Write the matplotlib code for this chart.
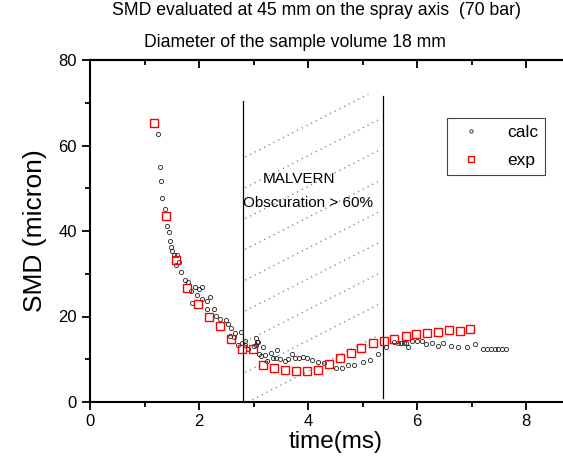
import matplotlib
matplotlib.use("Agg")
import matplotlib.pyplot as plt

plt.rcParams['font.family'] = ['Liberation Sans', 'DejaVu Sans']

# experimental SMD (red squares)
exp_t = [1.18, 1.39, 1.58, 1.78, 1.98, 2.18, 2.39, 2.59, 2.79, 2.99,
         3.18, 3.38, 3.58, 3.78, 3.98, 4.18, 4.39, 4.59, 4.78, 4.98,
         5.19, 5.39, 5.58, 5.79, 5.99, 6.18, 6.39, 6.59, 6.78, 6.98]
exp_smd = [65.2, 43.6, 33.1, 26.7, 23.0, 20.0, 17.8, 14.7, 12.4, 12.4,
           8.7, 8.0, 7.5, 7.2, 7.2, 7.6, 9.0, 10.4, 11.5, 12.6,
           13.8, 14.3, 14.7, 15.5, 15.9, 16.1, 16.4, 16.8, 16.6, 17.1]

# calculated SMD (small open circles)
calc_t = [1.24, 1.28, 1.30, 1.33, 1.38, 1.41, 1.45, 1.47, 1.48, 1.50,
          1.54, 1.57, 1.60, 1.63, 1.67, 1.74, 1.79, 1.85, 1.88, 1.93,
          1.96, 2.00, 2.06, 2.06, 2.14, 2.15, 2.21, 2.28, 2.31, 2.39,
          2.50, 2.54, 2.57, 2.59, 2.64, 2.66, 2.72, 2.77, 2.78, 2.84,
          2.85, 2.90, 3.00, 3.04, 3.04, 3.06, 3.09, 3.10, 3.13, 3.18,
          3.21, 3.25, 3.33, 3.35, 3.41, 3.44, 3.49, 3.58, 3.64, 3.70,
          3.76, 3.83, 3.91, 3.99, 4.08, 4.19, 4.29, 4.51, 4.62, 4.74,
          4.85, 5.00, 5.14, 5.28, 5.43, 5.58, 5.66, 5.71, 5.76, 5.80,
          5.84, 5.91, 6.00, 6.09, 6.17, 6.28, 6.38, 6.47, 6.62, 6.76,
          6.91, 7.06, 7.22, 7.29, 7.36, 7.43, 7.49, 7.56, 7.63]
calc_smd = [62.7, 55.0, 51.8, 47.8, 45.1, 41.2, 39.7, 37.7, 36.2, 35.3,
            34.4, 32.0, 34.4, 32.7, 30.5, 28.5, 28.0, 26.0, 23.2, 27.0,
            25.0, 26.4, 27.0, 24.1, 23.6, 21.8, 24.6, 21.7, 20.2, 19.3,
            19.2, 18.2, 15.4, 17.2, 15.1, 16.1, 13.3, 16.4, 13.7, 14.3,
            13.3, 12.4, 13.2, 14.9, 13.3, 14.1, 14.1, 11.2, 10.8, 12.8,
            11.0, 9.6, 11.4, 10.4, 10.2, 12.2, 10.0, 9.7, 10.1, 11.2,
            10.2, 10.2, 10.6, 10.4, 9.8, 9.4, 9.2, 8.0, 8.0, 8.6,
            8.7, 9.4, 9.8, 11.2, 12.8, 14.0, 13.7, 13.7, 13.7, 13.7,
            12.8, 14.3, 14.3, 14.3, 13.6, 13.7, 13.1, 13.8, 13.2, 12.8,
            12.9, 13.5, 12.4, 12.4, 12.4, 12.4, 12.4, 12.4, 12.4]

# MALVERN obscuration window
win_start, win_end = 2.8, 5.38
hatch_offsets = [57.0, 49.8, 42.6, 35.4, 28.2, 21.0, 13.8, 6.6, -0.6]
hatch_slope = 6.5

x_major = [0, 2, 4, 6, 8]
x_minor = [1, 3, 5, 7]

fig = plt.figure(figsize=(5.63, 4.58), dpi=100)
ax = fig.add_axes([90 / 563, 1 - 402 / 458, 9 * 54.5 / 563, 342 / 458])

# dotted hatch lines inside the window
for c in hatch_offsets:
    x_lo = max(2.85, win_start + (0 - c) / hatch_slope)
    x_hi = min(5.3, win_start + (72 - c) / hatch_slope)
    ax.plot([x_lo, x_hi],
            [c + hatch_slope * (x_lo - win_start), c + hatch_slope * (x_hi - win_start)],
            color='#777777', lw=1.0, ls=(0, (0.8, 3.0)), zorder=1)

ax.plot([win_start, win_start], [0, 70.5], color='black', lw=0.9, zorder=2)
ax.plot([win_end, win_end], [1, 71.6], color='black', lw=0.9, zorder=2)

ax.plot(calc_t, calc_smd, ls='none', marker='o', ms=3, mfc='none',
        mec='#222222', mew=0.6, label='calc', zorder=3)
ax.plot(exp_t, exp_smd, ls='none', marker='s', ms=6, mfc='none',
        mec='red', mew=1.0, label='exp', zorder=4)

ax.text(3.84, 51.2, 'MALVERN', fontsize=11, ha='center', va='baseline')
ax.text(4.0, 45.6, 'Obscuration > 60%', fontsize=11, ha='center', va='baseline')

ax.set_xlim(0, 9)
ax.set_ylim(0, 80)
ax.set_xticks(x_major)
ax.set_xticks(x_minor, minor=True)
ax.set_yticks([0, 20, 40, 60, 80])
ax.set_yticks([10, 30, 50, 70], minor=True)

for side in ['left', 'bottom', 'top']:
    ax.spines[side].set_linewidth(1.5)
ax.spines['right'].set_visible(False)

ax.tick_params(axis='both', which='major', labelsize=12, width=1.3, length=6)
ax.tick_params(axis='both', which='minor', width=1.3, length=3.5)
ax.tick_params(axis='x', which='major', pad=3)

# top axis: ticks pointing inward, no labels
top = ax.twiny()
top.set_xlim(ax.get_xlim())
top.set_xticks(x_major)
top.set_xticks(x_minor, minor=True)
top.tick_params(which='major', direction='in', length=6, width=1.3, labeltop=False)
top.tick_params(which='minor', direction='in', length=3.5, width=1.3)
for side in ['left', 'bottom', 'right']:
    top.spines[side].set_visible(False)
top.spines['top'].set_linewidth(1.5)

ax.set_xlabel('time(ms)', fontsize=17.5, labelpad=1)
ax.set_ylabel('SMD (micron)', fontsize=19, labelpad=8)

fig.text(317 / 563, 1 - 15 / 458, 'SMD evaluated at 45 mm on the spray axis  (70 bar)',
         fontsize=12.7, ha='center', va='baseline')
fig.text(295 / 563, 1 - 47 / 458, 'Diameter of the sample volume 18 mm',
         fontsize=12.7, ha='center', va='baseline')

leg = top.legend(*ax.get_legend_handles_labels(), loc='upper left',
                 bbox_to_anchor=(447 / 563, 1 - 118 / 458),
                 bbox_transform=fig.transFigure, fontsize=12.5, fancybox=False,
                 edgecolor='#444444', framealpha=1, borderpad=0.4,
                 handlelength=2.0, handletextpad=1.05, labelspacing=0.72,
                 borderaxespad=0, markerscale=0.8)
leg.get_frame().set_linewidth(0.8)

fig.savefig('out.png', dpi=100)
